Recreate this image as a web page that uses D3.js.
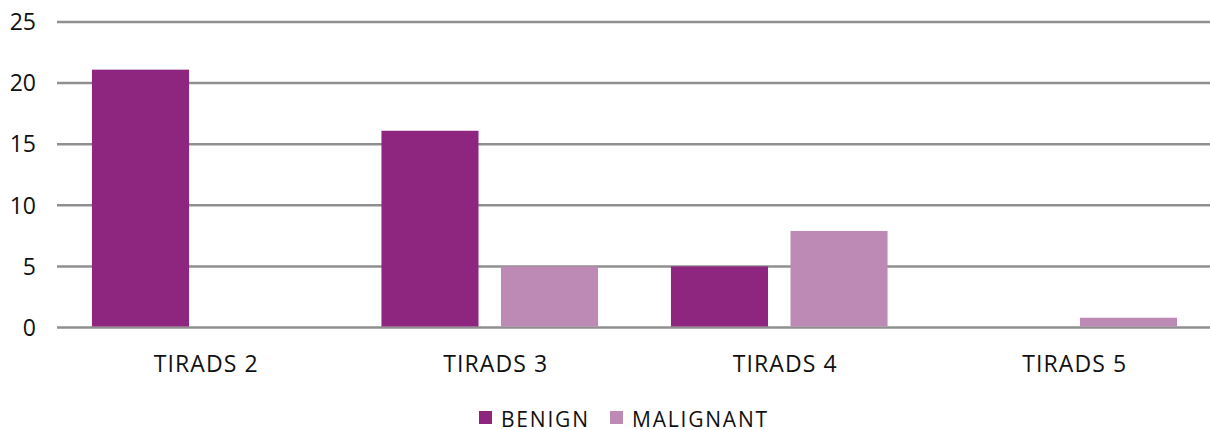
<!DOCTYPE html>
<html>
<head>
<meta charset="utf-8">
<script src="https://cdn.jsdelivr.net/npm/d3@7"></script>
<style>
  body { margin: 0; background: #fff; overflow: hidden; }
  text { font-family: "Open Sans", sans-serif; fill: #111; }
</style>
</head>
<body>
<div id="chart"></div>
<script>
var categories = ["TIRADS 2", "TIRADS 3", "TIRADS 4", "TIRADS 5"];
var series = ["BENIGN", "MALIGNANT"];
var benign = [21.1, 16.1, 5, 0];
var malignant = [0, 5, 7.9, 0.8];
var yTicks = [0, 5, 10, 15, 20, 25];
var colors = {"BENIGN": "#8e2680", "MALIGNANT": "#bd89b5"};

var width = 1210, height = 430;

var svg = d3.select("#chart").append("svg")
    .attr("width", width)
    .attr("height", height);

var x0 = d3.scaleBand()
    .domain(categories)
    .range([55.5, 1213.5]);

var x1 = d3.scaleBand()
    .domain(series)
    .range([0, x0.bandwidth()])
    .paddingInner(0.188)
    .paddingOuter(0.305);

var y = d3.scaleLinear()
    .domain([0, 25])
    .range([327.5, 22]);

// gridlines
svg.selectAll(".grid")
    .data(yTicks)
  .enter().append("line")
    .attr("class", "grid")
    .attr("x1", 57)
    .attr("x2", width)
    .attr("y1", function(d) { return y(d); })
    .attr("y2", function(d) { return y(d); })
    .attr("stroke", "#8f8f8f")
    .attr("stroke-width", 2.5);

// y labels
svg.selectAll(".ylab")
    .data(yTicks)
  .enter().append("text")
    .attr("class", "ylab")
    .attr("x", 36)
    .attr("y", function(d) { return y(d); })
    .attr("dy", "0.36em")
    .attr("text-anchor", "end")
    .style("font-size", "23px")
    .text(function(d) { return d; });

var rows = categories.map(function(c, i) {
  return {cat: c, values: [
    {key: "BENIGN", val: benign[i]},
    {key: "MALIGNANT", val: malignant[i]}
  ]};
});

var groups = svg.selectAll(".group")
    .data(rows)
  .enter().append("g")
    .attr("transform", function(d) { return "translate(" + x0(d.cat) + ",0)"; });

groups.selectAll("rect")
    .data(function(d) { return d.values.filter(function(v) { return v.val > 0; }); })
  .enter().append("rect")
    .attr("x", function(d) { return x1(d.key); })
    .attr("width", x1.bandwidth())
    .attr("y", function(d) { return y(d.val); })
    .attr("height", function(d) { return y(0) - y(d.val) - 1; })
    .attr("fill", function(d) { return colors[d.key]; });

// category labels
svg.selectAll(".xlab")
    .data(categories)
  .enter().append("text")
    .attr("class", "xlab")
    .attr("x", function(d) { return x0(d) + x0.bandwidth() / 2 + 6; })
    .attr("y", 372)
    .attr("text-anchor", "middle")
    .style("font-size", "23px")
    .style("letter-spacing", "1.1px")
    .text(function(d) { return d; });

// legend
var legendX = [479, 610];
var legend = svg.selectAll(".legend")
    .data(series)
  .enter().append("g")
    .attr("transform", function(d, i) { return "translate(" + legendX[i] + ",411)"; });

legend.append("rect")
    .attr("width", 13)
    .attr("height", 13)
    .attr("fill", function(d) { return colors[d]; });

legend.append("text")
    .attr("x", 22)
    .attr("y", 16)
    .style("font-size", "21px")
    .style("letter-spacing", "1.8px")
    .text(function(d) { return d; });
</script>
</body>
</html>
